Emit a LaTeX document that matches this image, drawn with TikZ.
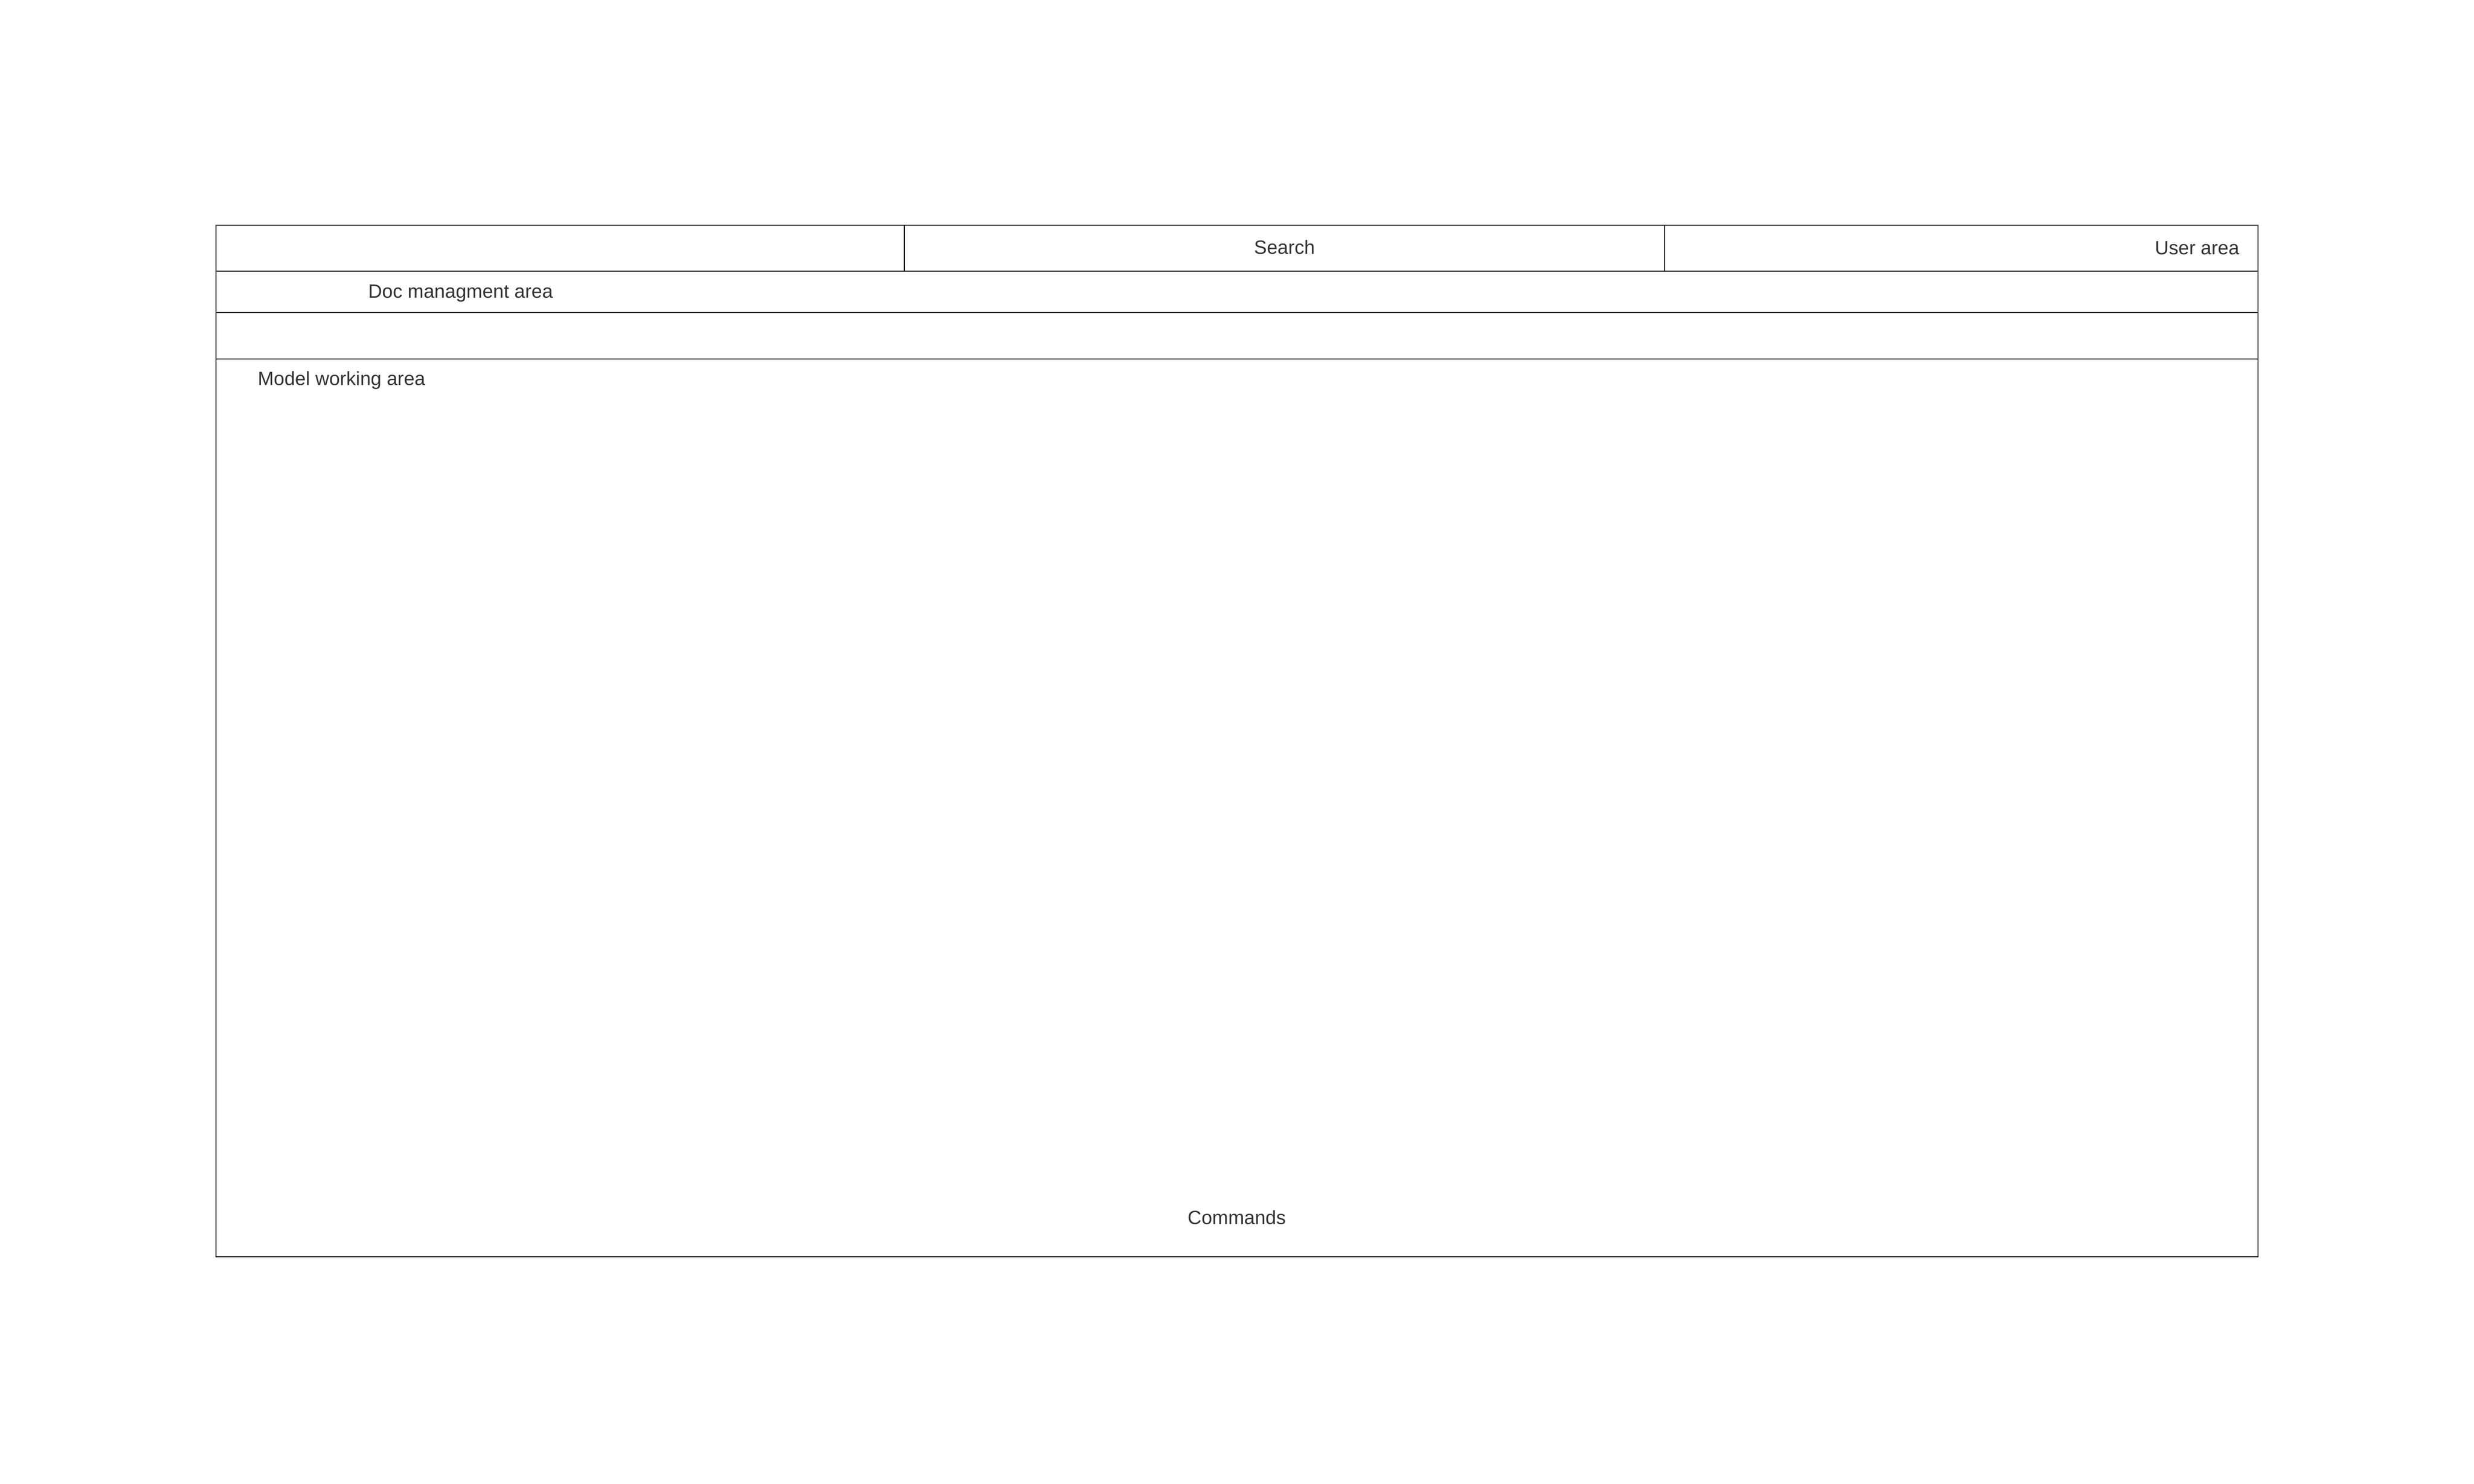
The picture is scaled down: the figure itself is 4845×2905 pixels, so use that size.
\documentclass[tikz,border=0pt]{standalone}
\usepackage{fontspec}
\setmainfont{Liberation Sans}
\usetikzlibrary{positioning}
\definecolor{linegray}{HTML}{222222}
\definecolor{textgray}{HTML}{333333}

\begin{document}
\begin{tikzpicture}[x=0.25pt, y=-0.25pt,
    cell/.style={draw=linegray, line width=0.45pt, rectangle, inner sep=0pt, outer sep=0pt},
    label/.style={text=textgray, inner sep=0pt, font=\fontsize{9.4}{11}\selectfont}]

        \useasboundingbox (0,0) rectangle (4845,2905);

        % top bar
        \node[cell, minimum width=337pt, minimum height=22.5pt] (logo) at (1097,486) {};
        \node[cell, minimum width=372.25pt, minimum height=22.5pt, right=0pt of logo] (search) {};
        \node[cell, minimum width=290.5pt, minimum height=22.5pt, right=0pt of search] (user) {};

        % doc management, tools and model area
        \node[cell, minimum width=999.75pt, minimum height=20.25pt, anchor=north west] (docrow) at (logo.south west) {};
        \node[cell, minimum width=999.75pt, minimum height=22.75pt, below=0pt of docrow] (toolrow) {};
        \node[cell, minimum width=999.75pt, minimum height=439.5pt, below=0pt of toolrow] (model) {};

        \node[label, yshift=0.6pt] (searchlbl) at (search) {Search};
        \node[label, anchor=east, xshift=-9pt] (userlbl) at (user.east) {User area};
        \node[label] (doclbl) at (902,574) {Doc managment area};
        \node[label, anchor=west] (modellbl) at (504,745) {Model working area};
        \node[label] (cmdlbl) at (2422,2384) {Commands};

    \end{tikzpicture}
\end{document}
